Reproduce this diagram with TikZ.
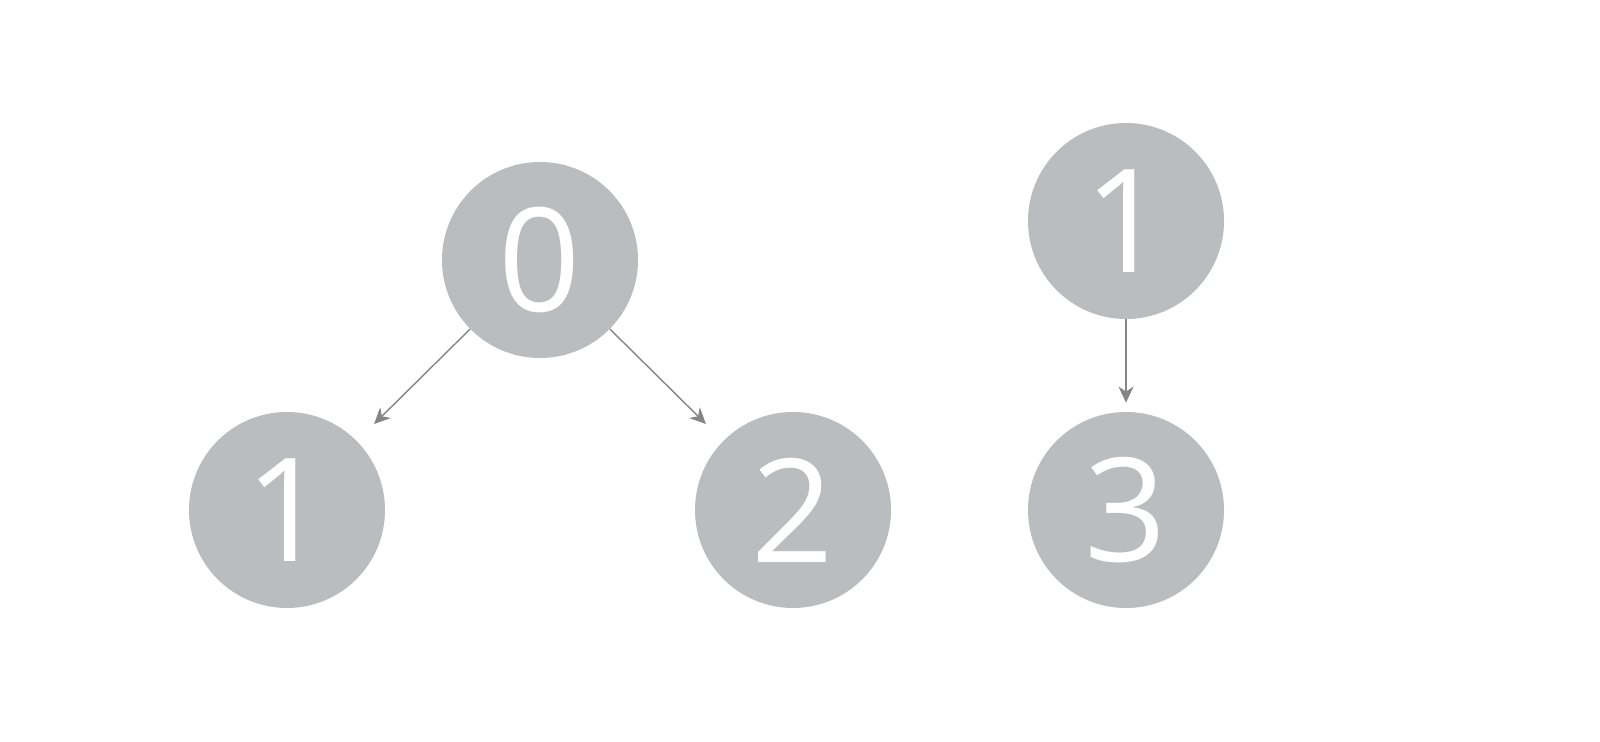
\documentclass[tikz,border=0pt]{standalone}
\usepackage{fontspec}
\setmainfont{Open Sans}
\usetikzlibrary{arrows.meta}
\definecolor{noeud}{HTML}{BBBCBE}
\definecolor{fleche}{HTML}{858585}
\tikzset{
  noeud/.style={circle,fill=noeud,text=white,minimum size=98pt,inner sep=0pt,
    font=\fontsize{72}{72}\selectfont},
  fleche/.style={draw=fleche,line width=0.7pt,-{Stealth[length=8pt,width=7.5pt,inset=2.5pt]}}
}
\begin{document}
\begin{tikzpicture}[x=0.5pt,y=-0.5pt]
			\useasboundingbox (0,0) rectangle (1600,742);
			\node [noeud] (zero) at (540,260) {0};
			\node [noeud] (un) at (287,510) {1};
			\node [noeud] (deux) at (793,510) {2};
			\node [noeud] (unb) at (1126,221) {1};
			\node [noeud] (trois) at (1126,510) {3};
			
			\draw [fleche,shorten >=12pt] (zero) -- (un);
			\draw [fleche,shorten >=12pt] (zero) -- (deux);
			\draw [fleche,shorten >=4.5pt] (unb) -- (trois);
		\end{tikzpicture}
\end{document}
